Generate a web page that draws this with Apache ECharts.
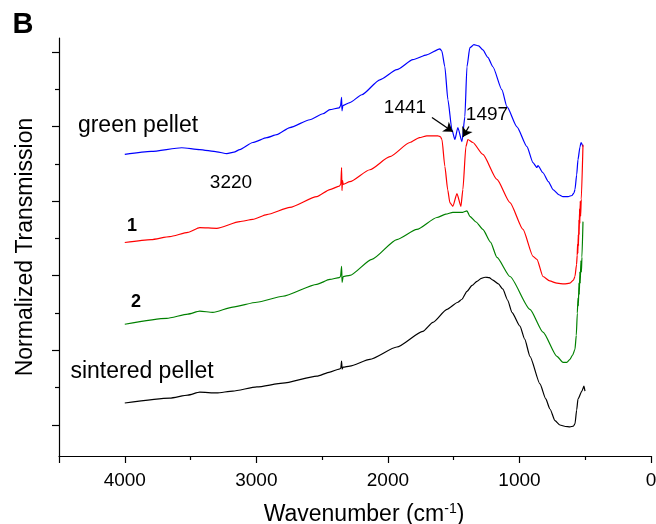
<!DOCTYPE html>
<html>
<head>
<meta charset="utf-8">
<script src="https://cdn.jsdelivr.net/npm/echarts@6.0.0/dist/echarts.min.js"></script>
<style>
  html, body { margin: 0; padding: 0; background: #fff; }
  #chart { width: 656px; height: 524px; }
</style>
</head>
<body>
<div id="chart"></div>
<script>
// spectra: [wavenumber (cm-1), normalized transmission (a.u.)]
var greenPelletData = [
  [4000, 7.25], [3800, 7.33], [3567, 7.43], [3430, 7.38], [3300, 7.32], [3224, 7.27],
  [3170, 7.31], [3126, 7.38], [3027, 7.57], [2920, 7.70], [2844, 7.78], [2745, 7.97],
  [2593, 8.18], [2494, 8.34], [2441, 8.45], [2370, 8.50], [2360, 8.55], [2352, 8.78],
  [2349, 8.42], [2342, 8.56], [2289, 8.64], [2198, 8.85], [2061, 9.25], [1932, 9.52],
  [1810, 9.79], [1704, 9.92], [1605, 10.08], [1590, 10.02], [1567, 9.60], [1544, 8.72],
  [1513, 7.91], [1491, 7.65], [1468, 7.97], [1437, 7.59], [1415, 8.26], [1399, 9.60],
  [1377, 10.11], [1346, 10.19], [1310, 10.16], [1278, 10.05], [1240, 9.85], [1202, 9.60],
  [1133, 8.98], [1095, 8.53], [1019, 7.99], [943, 7.46], [897, 7.03], [867, 6.90],
  [859, 6.95], [821, 6.76], [780, 6.52], [745, 6.31], [700, 6.17], [669, 6.12],
  [630, 6.12], [601, 6.15], [585, 6.22], [578, 6.31], [565, 6.70], [555, 7.11],
  [540, 7.45], [532, 7.57], [517, 7.46]
];
var sample1Data = [
  [4000, 4.89], [3800, 4.97], [3658, 5.05], [3520, 5.16], [3430, 5.29], [3301, 5.27],
  [3126, 5.45], [3027, 5.51], [2920, 5.64], [2745, 5.83], [2540, 6.12], [2441, 6.31],
  [2370, 6.40], [2358, 6.45], [2352, 6.90], [2349, 6.28], [2345, 6.55], [2340, 6.45],
  [2289, 6.52], [2137, 6.84], [1985, 7.19], [1833, 7.57], [1760, 7.70], [1704, 7.75],
  [1620, 7.75], [1600, 7.72], [1589, 7.65], [1567, 6.93], [1545, 6.30], [1529, 5.96],
  [1506, 5.86], [1475, 6.20], [1445, 5.86], [1430, 6.31], [1407, 7.46], [1392, 7.65],
  [1354, 7.57], [1278, 7.25], [1171, 6.58], [1072, 5.96], [973, 5.24], [897, 4.52],
  [867, 4.44], [821, 3.98], [770, 3.86], [715, 3.80], [660, 3.78], [616, 3.80],
  [590, 3.88], [578, 3.98], [566, 4.30], [561, 4.55], [558, 4.85], [556, 4.60],
  [553, 5.10], [551, 4.80], [548, 5.50], [546, 5.10], [543, 5.80], [541, 5.40],
  [538, 6.00], [535, 5.60], [530, 6.05], [517, 7.51]
];
var sample2Data = [
  [4000, 2.70], [3681, 2.86], [3520, 2.97], [3430, 3.05], [3331, 3.02], [3179, 3.16],
  [2996, 3.29], [2799, 3.45], [2540, 3.77], [2441, 3.90], [2370, 3.95], [2360, 3.98],
  [2352, 4.25], [2348, 3.82], [2340, 3.98], [2289, 4.01], [2122, 4.44], [1932, 4.97],
  [1780, 5.24], [1627, 5.56], [1560, 5.65], [1506, 5.70], [1430, 5.70], [1399, 5.74],
  [1377, 5.59], [1330, 5.44], [1278, 5.24], [1220, 4.90], [1171, 4.49], [1072, 3.98],
  [920, 3.10], [821, 2.49], [715, 1.84], [669, 1.68], [640, 1.68], [616, 1.76],
  [595, 1.88], [578, 2.03], [568, 2.40], [560, 3.00], [555, 3.40], [552, 3.20],
  [548, 3.80], [545, 3.50], [541, 4.10], [538, 3.80], [533, 4.40], [529, 4.10],
  [525, 4.50], [517, 5.45]
];
var sinteredData = [
  [4000, 0.59], [3658, 0.72], [3520, 0.80], [3430, 0.88], [3301, 0.86], [3179, 0.91],
  [2996, 1.02], [2799, 1.12], [2540, 1.31], [2441, 1.42], [2370, 1.50], [2358, 1.52],
  [2352, 1.71], [2348, 1.50], [2340, 1.55], [2289, 1.58], [2137, 1.76], [1932, 2.09],
  [1734, 2.51], [1658, 2.75], [1551, 3.10], [1468, 3.29], [1437, 3.37], [1399, 3.58],
  [1360, 3.74], [1323, 3.85], [1290, 3.93], [1262, 3.96], [1230, 3.95], [1202, 3.88],
  [1160, 3.78], [1126, 3.64], [1090, 3.35], [1057, 3.02], [996, 2.65], [960, 2.30],
  [920, 1.84], [844, 1.10], [800, 0.70], [768, 0.43], [730, 0.12], [692, 0.00],
  [650, -0.04], [616, -0.05], [590, -0.03], [578, 0.03], [565, 0.40], [555, 0.70],
  [525, 0.91], [510, 1.04], [502, 0.91]
];

var xTicks = [0, 1000, 2000, 3000, 4000];
var yMajorTicks = [0, 2, 4, 6, 8, 10];
var yMinorTicks = [1, 3, 5, 7, 9];

// peak markers: [from, to] in data coords
var arrow1441 = [[1665, 8.24], [1506, 7.86]];
var arrow1497 = [[1384, 8.00], [1430, 7.72]];

var font = "Liberation Sans, Arial, sans-serif";
var chart = echarts.init(document.getElementById("chart"));

function spectrum(name, data, color) {
  return {
    name: name,
    type: "line",
    data: data,
    symbol: "none",
    smooth: 0.2,
    smoothMonotone: "x",
    lineStyle: { color: color, width: 1.2 },
    z: 3
  };
}

var gridBox = { left: 59, right: 5, top: 38, bottom: 68, outerBoundsMode: "none" };
var xBase = { type: "value", min: 0, max: 4500, interval: 1000, inverse: true };
var yBase = {
  type: "value",
  min: -0.83,
  max: 10.37,
  position: "left",
  axisLabel: { show: false },
  splitLine: { show: false }
};
var axisColor = { color: "#000", width: 1.2 };

var s1 = spectrum("green pellet", greenPelletData, "#0000ff");
s1.markLine = {
  silent: true,
  symbol: ["none", "arrow"],
  symbolSize: 9,
  label: { show: false },
  lineStyle: { color: "#000", width: 1.3, type: "solid" },
  data: [
    [{ coord: arrow1441[0] }, { coord: arrow1441[1] }],
    [{ coord: arrow1497[0] }, { coord: arrow1497[1] }]
  ]
};

function label(text, x, y, size, bold) {
  return {
    type: "text",
    x: x,
    y: y,
    style: {
      text: text,
      fill: "#000",
      font: (bold ? "bold " : "") + size + "px " + font,
      align: "center",
      verticalAlign: "middle"
    }
  };
}

chart.setOption({
  animation: false,
  backgroundColor: "#fff",
  // second grid only carries the short y ticks
  grid: [gridBox, gridBox],
  xAxis: [
    Object.assign({}, xBase, {
      gridIndex: 0,
      name: "Wavenumber (cm{sup|-1})",
      nameLocation: "middle",
      nameGap: 46,
      nameTextStyle: {
        fontFamily: font,
        fontSize: 23,
        color: "#000",
        padding: [0, 0, 0, 18],
        rich: {
          sup: { fontFamily: font, fontSize: 14, color: "#000", padding: [0, 0, 12, 0] }
        }
      },
      axisLine: { onZero: false, lineStyle: axisColor },
      axisTick: { length: 7, lineStyle: axisColor },
      minorTick: { show: true, splitNumber: 2, length: 4, lineStyle: axisColor },
      axisLabel: {
        color: "#000",
        fontFamily: font,
        fontSize: 19,
        margin: 15,
        customValues: xTicks,
        formatter: function (v) { return String(v); }
      },
      splitLine: { show: false },
      minorSplitLine: { show: false }
    }),
    Object.assign({}, xBase, {
      gridIndex: 1,
      show: false
    })
  ],
  yAxis: [
    Object.assign({}, yBase, {
      gridIndex: 0,
      name: "Normalized Transmission",
      nameLocation: "middle",
      nameGap: 22,
      nameTextStyle: { fontFamily: font, fontSize: 23, color: "#000" },
      axisLine: { show: true, onZero: false, lineStyle: axisColor },
      axisTick: { show: true, length: 7, customValues: yMajorTicks, lineStyle: axisColor }
    }),
    Object.assign({}, yBase, {
      gridIndex: 1,
      axisLine: { show: false, onZero: false },
      axisTick: { show: true, length: 4, customValues: yMinorTicks, lineStyle: axisColor }
    })
  ],
  series: [
    s1,
    spectrum("1", sample1Data, "#ff0000"),
    spectrum("2", sample2Data, "#008000"),
    spectrum("sintered pellet", sinteredData, "#000000")
  ],
  graphic: [
    label("B", 23, 25, 29, true),
    label("green pellet", 138, 126, 23),
    label("3220", 231, 183, 19),
    label("1441", 405, 108, 19),
    label("1497", 487, 115, 19),
    label("1", 132, 226, 18, true),
    label("2", 136, 302, 18, true),
    label("sintered pellet", 142, 372, 23)
  ]
});
window.onresize = chart.resize;
</script>
</body>
</html>
